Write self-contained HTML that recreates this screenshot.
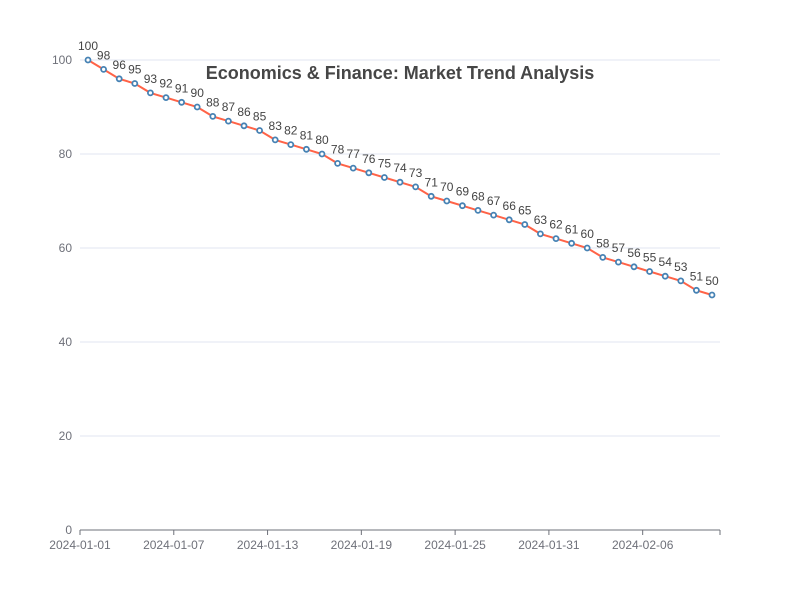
<!DOCTYPE html>
<html><head><meta charset="utf-8"><style>
body{margin:0;background:#fff;font-family:"Liberation Sans","Microsoft YaHei",sans-serif;}
svg text{font-family:"Liberation Sans",sans-serif;}
</style></head><body>
<svg id="c" width="800" height="600"></svg>
<script>
const dates=['2024-01-01','2024-01-07','2024-01-13','2024-01-19','2024-01-25','2024-01-31','2024-02-06'];
const values=[100,98,96,95,93,92,91,90,88,87,86,85,83,82,81,80,78,77,76,75,74,73,71,70,69,68,67,66,65,63,62,61,60,58,57,56,55,54,53,51,50];
const yTicks=[0,20,40,60,80,100];
const NS='http://www.w3.org/2000/svg';
const svg=document.getElementById('c');
function el(t,a,p){const e=document.createElementNS(NS,t);for(const k in a)e.setAttribute(k,a[k]);(p||svg).appendChild(e);return e;}
const x0=80,x1=720,y0=530,y1=60;
const ys=v=>y0-(v/100)*(y0-y1);
const xs=i=>88+i*(712-88)/(values.length-1);
const tickX=i=>x0+i*93.78;
let t=el('text',{x:400,y:79,'text-anchor':'middle','font-size':18,'font-weight':'bold',fill:'#464646'});
t.textContent='Economics & Finance: Market Trend Analysis';


yTicks.forEach(v=>{
 if(v>0){const g=el('line',{x1:x0,x2:x1,y1:ys(v),y2:ys(v),stroke:'#e0e6f1'});
 
 }
 const l=el('text',{x:72,y:ys(v)+4,'text-anchor':'end','font-size':12,fill:'#6e7079'});
 l.textContent=v;
 
 
});
const ax=el('line',{x1:x0,x2:x1,y1:y0,y2:y0,stroke:'#6e7079'});


dates.forEach((d,i)=>{
 const x=tickX(i);
 el('line',{x1:x,x2:x,y1:y0,y2:y0+5,stroke:'#6e7079'});
 const l=el('text',{x:x,y:y0+19,'text-anchor':'middle','font-size':12,fill:'#6e7079'});
 l.textContent=d;
 
 
});
el('line',{x1:x1,x2:x1,y1:y0,y2:y0+5,stroke:'#6e7079'});
const line=el('polyline',{points:values.map((v,i)=>xs(i)+','+ys(v)).join(' '),fill:'none',stroke:'#ff6347','stroke-width':2});


values.forEach((v,i)=>{
 const c=el('circle',{cx:xs(i),cy:ys(v),r:2.5,fill:'#fff',stroke:'#4682b4','stroke-width':1.8});
 
 
 const l=el('text',{x:xs(i),y:ys(v)-10,'text-anchor':'middle','font-size':12,fill:'#444'});
 l.textContent=v;
 
 
});
</script>
</body></html>
